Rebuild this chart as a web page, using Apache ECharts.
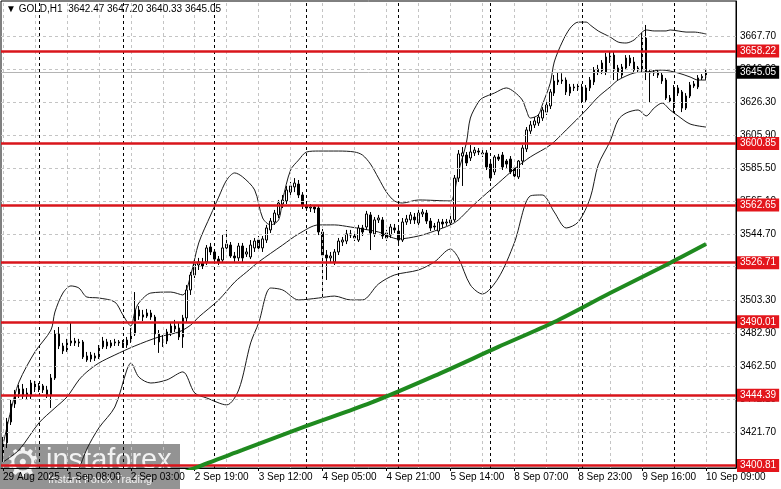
<!DOCTYPE html>
<html><head><meta charset="utf-8">
<script src="https://cdn.jsdelivr.net/npm/echarts@6/dist/echarts.min.js"></script>
<style>html,body{margin:0;padding:0;background:#fff}#c{width:781px;height:489px}</style>
</head><body><div id="c"></div>
<script>
// ---------------- data ----------------
const slotCount = 184; // 177 bars + right shift space
const xLabels = ['29 Aug 2025','1 Sep 08:00','2 Sep 03:00','2 Sep 19:00','3 Sep 12:00','4 Sep 05:00','4 Sep 21:00','5 Sep 14:00','8 Sep 07:00','8 Sep 23:00','9 Sep 16:00','10 Sep 09:00'];
const labelStep = 16;
const yTicks = [3667.70,3646.90,3626.30,3605.90,3585.50,3565.10,3544.70,3524.30,3503.30,3482.90,3462.50,3442.10,3421.70];
const levels = [3658.22,3600.85,3562.65,3526.71,3490.01,3444.39,3400.81];
const lastPrice = 3645.05;
const separators = [9,30,53,76,99,122,145,168];
const gridBars = [0,8,16,24,32,40,48,56,64,72,80,88,96,104,112,120,128,136,144,152,160,168,176];
// [open, close, low, high]
const ohlc = [
[3407.3,3414.8,3403.0,3418.5],[3414.8,3427.8,3411.6,3430.3],[3427.8,3439.0,3425.9,3441.5],[3439.0,3445.2,3436.5,3447.7],
[3445.2,3448.3,3442.7,3450.8],[3448.3,3443.9,3442.1,3451.4],[3443.9,3445.8,3441.5,3448.9],[3443.9,3452.0,3442.1,3453.9],
[3451.4,3448.9,3446.4,3453.3],[3448.9,3450.2,3446.4,3452.0],[3450.2,3447.7,3445.8,3451.4],[3447.7,3444.6,3442.7,3450.2],
[3444.6,3455.1,3436.5,3457.6],[3455.1,3482.5,3453.9,3484.9],[3482.5,3475.0,3473.1,3486.8],[3475.0,3471.9,3470.0,3476.9],
[3472.5,3476.9,3471.3,3479.4],[3476.9,3478.1,3475.0,3489.9],[3478.1,3476.9,3475.0,3480.0],[3476.9,3477.5,3474.4,3479.4],
[3477.5,3468.2,3466.9,3478.7],[3468.8,3466.3,3465.1,3471.3],[3466.9,3469.4,3465.1,3471.3],[3468.8,3467.5,3465.7,3470.7],
[3468.2,3474.4,3466.9,3475.6],[3474.4,3478.1,3473.1,3480.6],[3477.5,3475.0,3473.1,3479.4],[3475.0,3476.9,3473.8,3478.7],
[3476.9,3477.5,3475.0,3479.4],[3477.5,3476.9,3475.0,3478.7],[3476.9,3475.6,3473.8,3478.7],[3475.6,3478.7,3473.8,3480.6],
[3478.1,3483.1,3476.9,3486.2],[3482.5,3497.4,3481.2,3508.5],[3497.4,3493.6,3491.2,3499.8],[3494.3,3493.0,3490.5,3497.4],
[3493.6,3495.5,3492.4,3498.0],[3495.5,3493.0,3491.2,3497.4],[3493.0,3482.5,3475.6,3494.3],[3482.5,3477.5,3470.7,3484.9],
[3477.5,3478.7,3474.4,3481.8],[3478.1,3483.7,3476.2,3485.6],[3483.1,3487.4,3481.2,3489.9],[3487.4,3485.6,3483.7,3491.2],
[3486.2,3480.6,3478.7,3489.3],[3480.6,3492.4,3473.8,3494.3],[3492.4,3509.8,3489.9,3512.9],[3509.8,3519.1,3506.7,3521.0],
[3519.1,3525.9,3517.2,3528.4],[3525.3,3527.2,3522.2,3529.7],[3526.6,3524.7,3522.8,3529.7],[3527.2,3535.9,3525.3,3537.7],
[3536.5,3533.4,3531.5,3539.0],[3533.4,3529.0,3527.2,3535.2],[3529.0,3527.2,3525.3,3530.9],[3528.4,3535.9,3526.6,3544.0],
[3535.9,3538.3,3534.6,3547.1],[3537.7,3530.9,3529.7,3539.6],[3530.9,3529.7,3527.2,3533.4],[3529.7,3537.1,3527.8,3539.0],
[3537.1,3529.7,3527.2,3539.0],[3532.1,3533.4,3530.3,3535.9],[3530.3,3537.7,3529.0,3540.8],[3535.9,3540.2,3533.4,3542.1],
[3540.8,3535.9,3534.0,3543.3],[3535.9,3541.5,3533.4,3543.3],[3540.8,3548.3,3539.0,3550.2],[3547.1,3552.6,3545.2,3554.5],
[3552.0,3557.6,3550.2,3559.5],[3556.4,3563.8,3554.5,3565.7],[3563.2,3565.7,3560.7,3568.8],[3565.1,3571.9,3563.2,3574.4],
[3570.6,3574.4,3568.8,3576.9],[3573.8,3576.2,3570.6,3579.3],[3575.6,3568.8,3566.9,3578.1],[3568.8,3562.0,3560.1,3570.6],
[3562.0,3560.7,3558.9,3563.8],[3560.7,3561.3,3558.2,3563.2],[3561.3,3560.1,3557.6,3562.6],[3560.7,3545.8,3543.9,3562.6],
[3545.8,3531.5,3504.8,3547.7],[3531.5,3529.7,3516.0,3534.6],[3529.7,3530.9,3527.2,3533.4],[3527.2,3533.4,3525.3,3535.2],
[3533.4,3540.2,3531.5,3542.1],[3539.6,3540.8,3537.1,3542.7],[3540.2,3544.6,3538.3,3547.1],[3543.9,3544.6,3542.1,3547.1],
[3543.3,3542.1,3540.2,3545.8],[3540.8,3548.3,3539.6,3550.2],[3548.3,3545.8,3543.3,3550.2],[3548.9,3557.0,3547.1,3558.9],
[3556.4,3545.2,3534.6,3558.2],[3544.6,3553.3,3542.7,3555.1],[3553.3,3554.5,3551.4,3556.4],[3553.3,3543.3,3541.5,3555.1],
[3545.2,3542.1,3540.2,3547.1],[3543.9,3548.9,3542.1,3550.8],[3548.3,3547.1,3545.2,3550.8],[3546.4,3540.8,3539.0,3548.3],
[3540.8,3552.0,3539.6,3554.5],[3552.0,3553.9,3550.2,3556.4],[3553.3,3556.4,3550.8,3558.2],[3555.1,3553.3,3550.8,3557.6],
[3551.4,3557.6,3549.6,3559.5],[3557.0,3558.2,3555.1,3560.1],[3557.6,3552.6,3550.8,3559.5],[3552.6,3548.3,3546.4,3554.5],
[3549.5,3548.9,3547.1,3551.4],[3546.4,3552.0,3543.9,3553.9],[3552.0,3550.8,3548.3,3553.9],[3551.4,3552.0,3549.6,3553.9],
[3551.4,3553.3,3549.6,3555.7],[3553.3,3579.3,3552.0,3581.2],[3579.3,3594.3,3576.9,3596.7],[3593.0,3594.9,3574.4,3598.6],
[3593.6,3588.7,3586.8,3595.5],[3591.8,3595.5,3589.9,3599.8],[3594.9,3596.7,3593.0,3598.6],[3596.1,3595.5,3593.6,3598.0],
[3594.9,3594.3,3592.4,3596.7],[3594.9,3586.2,3584.3,3596.7],[3588.0,3579.3,3577.5,3590.5],[3583.1,3592.4,3581.2,3593.6],
[3592.4,3591.1,3589.9,3594.3],[3593.6,3586.2,3584.3,3595.5],[3589.9,3588.0,3585.6,3591.1],[3591.1,3583.1,3581.8,3593.0],
[3585.6,3580.6,3578.1,3587.4],[3580.0,3589.9,3578.7,3590.5],[3589.9,3598.0,3587.4,3599.8],[3597.4,3609.2,3595.5,3611.0],
[3608.5,3612.3,3606.7,3614.8],[3612.3,3614.8,3610.4,3617.2],[3613.5,3617.2,3611.7,3619.1],[3616.6,3621.6,3614.8,3623.4],
[3620.3,3624.7,3618.5,3626.5],[3624.1,3632.8,3622.2,3634.6],[3632.1,3639.6,3630.3,3643.3],[3639.0,3640.2,3637.1,3645.2],
[3639.6,3640.2,3637.8,3644.4],[3640.2,3632.8,3630.9,3641.8],[3635.9,3632.1,3630.3,3637.8],[3635.9,3635.3,3633.4,3637.8],
[3635.3,3636.5,3633.4,3637.8],[3635.9,3627.8,3625.9,3637.8],[3627.8,3635.3,3626.6,3637.1],[3635.3,3640.2,3633.4,3642.1],
[3639.0,3646.4,3637.1,3648.3],[3645.2,3647.0,3643.3,3649.6],[3645.8,3650.8,3643.9,3652.6],[3645.2,3654.5,3643.3,3657.0],
[3655.1,3652.6,3650.8,3658.2],[3655.7,3646.4,3640.2,3658.2],[3647.7,3645.2,3640.2,3649.6],[3643.3,3648.3,3641.5,3650.2],
[3647.7,3653.9,3646.4,3655.7],[3653.9,3650.8,3648.9,3655.7],[3651.4,3646.4,3645.2,3654.5],[3647.7,3646.4,3644.6,3648.9],
[3646.4,3666.3,3645.2,3669.4],[3666.3,3645.2,3640.2,3674.4],[3645.2,3644.6,3626.5,3646.4],[3644.6,3645.2,3642.7,3646.4],
[3645.2,3643.3,3641.5,3646.4],[3643.3,3639.6,3637.8,3645.2],[3640.2,3629.0,3627.8,3641.5],[3629.0,3627.2,3625.9,3630.9],
[3625.3,3635.3,3619.7,3637.1],[3635.3,3632.1,3630.3,3637.1],[3632.8,3622.8,3620.3,3634.0],[3622.8,3630.3,3621.6,3632.1],
[3630.3,3637.1,3629.0,3639.0],[3636.5,3637.8,3635.3,3639.6],[3635.9,3641.5,3634.6,3643.3],[3641.5,3642.5,3640.2,3643.9],
[3642.47,3645.05,3640.33,3647.20]
];
// Bollinger bands: [bar index, value]
const bbUpper = [[0,3413.5],[2,3435.3],[4,3452.6],[8,3471.3],[12,3484.9],[13,3496.1],[15,3507.9],[17,3512.3],[19,3511.0],[21,3505.4],[24,3504.8],[28,3502.3],[30,3494.3],[32,3487.4],[33,3496.1],[34,3501.7],[37,3507.9],[42,3508.5],[45,3506.7],[47,3519.1],[49,3539.0],[52,3556.4],[54,3567.5],[56,3578.1],[58,3582.5],[60,3580.0],[63,3571.9],[65,3554.5],[67,3550.2],[69,3553.3],[70,3565.7],[72,3584.3],[74,3590.5],[76,3595.5],[79,3596.1],[84,3596.1],[88,3595.5],[90,3593.6],[92,3588.0],[94,3579.3],[96,3570.6],[98,3565.1],[100,3563.8],[104,3565.7],[112,3565.1],[113,3570.6],[114,3583.1],[116,3601.1],[117,3616.6],[119,3626.5],[120,3629.0],[123,3632.1],[126,3635.3],[128,3632.8],[130,3627.8],[131,3621.6],[132,3616.6],[134,3618.5],[135,3624.7],[137,3638.3],[138,3651.4],[140,3663.8],[142,3672.5],[144,3676.2],[146,3676.2],[147,3674.4],[149,3670.7],[152,3666.9],[154,3663.8],[156,3663.2],[158,3665.1],[159,3667.5],[161,3671.3],[163,3670.7],[166,3670.7],[167,3671.3],[169,3670.7],[171,3670.0],[173,3670.0],[176,3668.8]];
const bbMiddle = [[0,3402.9],[4,3410.4],[9,3427.2],[13,3436.5],[16,3443.3],[19,3453.9],[21,3458.9],[24,3464.4],[28,3469.4],[33,3475.0],[39,3480.6],[44,3483.7],[47,3488.0],[49,3493.0],[54,3503.6],[58,3514.7],[61,3521.0],[64,3527.2],[70,3537.7],[74,3544.6],[79,3550.2],[83,3550.2],[87,3548.9],[90,3547.7],[94,3545.8],[99,3541.5],[104,3543.3],[108,3546.4],[112,3550.2],[114,3553.3],[117,3560.7],[120,3567.5],[124,3576.2],[128,3584.9],[132,3592.4],[137,3599.8],[141,3609.2],[146,3621.6],[149,3629.7],[152,3635.9],[154,3640.2],[158,3644.6],[161,3645.2],[165,3646.4],[169,3644.6],[172,3642.1],[174,3640.2],[176,3640.2]];
const bbLower = [[0,3392.4],[4,3368.2],[9,3378.7],[16,3375.0],[19,3398.0],[21,3411.0],[24,3424.1],[28,3437.1],[31,3460.1],[32,3464.4],[34,3455.7],[37,3452.0],[41,3453.9],[45,3458.9],[48,3445.8],[51,3442.7],[56,3438.4],[59,3447.7],[62,3476.9],[64,3489.3],[67,3511.0],[70,3509.8],[74,3503.6],[79,3504.8],[83,3506.0],[87,3503.6],[90,3503.6],[94,3513.5],[98,3519.1],[104,3522.2],[108,3527.2],[112,3535.2],[114,3529.7],[117,3512.9],[120,3507.3],[124,3517.2],[128,3539.0],[132,3568.2],[135,3568.8],[138,3558.2],[141,3548.3],[144,3552.0],[147,3566.9],[149,3587.4],[152,3602.3],[154,3615.4],[156,3619.7],[159,3621.6],[161,3617.9],[163,3622.8],[165,3625.9],[167,3621.6],[169,3617.9],[172,3612.9],[176,3611.0]];
// long moving average (green)
const maLine = [[44,3395.0],[48,3399.2],[60,3410.4],[76,3425.3],[92,3439.6],[108,3456.4],[124,3474.4],[138,3489.9],[152,3507.9],[167,3526.6],[176,3538.3]];

// ---------------- chart ----------------
const cats = [];
for (let i = 0; i < slotCount; i++) cats.push(String(i));
const FONT = 'Liberation Sans';
const isLabelBar = (i) => i % labelStep === 0 && i / labelStep < xLabels.length;

const chart = echarts.init(document.getElementById('c'), null, {renderer: 'canvas'});
chart.setOption({
  animation: false,
  backgroundColor: '#ffffff',
  grid: {left: 1, top: 1, width: 735, height: 467, show: true, borderColor: '#000', borderWidth: 1, backgroundColor: '#fff'},
  xAxis: {
    type: 'category', data: cats, boundaryGap: true,
    axisLine: {show: true, lineStyle: {color: '#000', width: 1}},
    axisTick: {show: true, alignWithLabel: true, interval: (i) => isLabelBar(i), length: 3, lineStyle: {color: '#000'}},
    axisLabel: {show: true, interval: (i) => isLabelBar(i), formatter: (v, i) => xLabels[i / labelStep] || '',
      align: 'left', margin: 4, fontSize: 10, fontFamily: FONT, color: '#000'},
    splitLine: {show: false}
  },
  yAxis: {
    type: 'value', position: 'right', min: 3399.2, max: 3689.3, scale: true,
    axisLine: {show: true, lineStyle: {color: '#000'}},
    axisTick: {show: false}, axisLabel: {show: false}, splitLine: {show: false}
  },
  series: [
    { // price grid + tick labels
      type: 'line', data: [], silent: true, z: 1,
      markLine: {
        silent: true, symbol: ['none', 'none'], animation: false,
        lineStyle: {color: '#c4c4c4', type: [3, 3], width: 1},
        label: {show: true, position: 'end', distance: 4, formatter: (p) => p.value.toFixed(2),
          fontSize: 10, fontFamily: FONT, color: '#000'},
        data: yTicks.map(v => ({yAxis: v}))
      }
    },
    { // vertical grid
      type: 'line', data: [], silent: true, z: 1,
      markLine: {
        silent: true, symbol: ['none', 'none'], animation: false,
        lineStyle: {color: '#c4c4c4', type: [3, 3], width: 1},
        label: {show: false},
        data: gridBars.map(v => ({xAxis: v}))
      }
    },
    { // day separators
      type: 'line', data: [], silent: true, z: 2,
      markLine: {
        silent: true, symbol: ['none', 'none'], animation: false,
        lineStyle: {color: '#000', type: [3, 3], width: 1},
        label: {show: false},
        data: separators.map(v => ({xAxis: v}))
      }
    },
    { // current price line
      type: 'line', data: [], silent: true, z: 2,
      markLine: {
        silent: true, symbol: ['none', 'none'], animation: false,
        lineStyle: {color: '#b4b4b4', type: 'solid', width: 1},
        label: {show: true, position: 'end', distance: 1, formatter: (p) => p.value.toFixed(2),
          fontSize: 10, fontFamily: FONT, color: '#fff', backgroundColor: '#000', padding: [2, 3, 1, 3]},
        data: [{yAxis: lastPrice}]
      }
    },
    {name: 'upper', type: 'line', data: bbUpper, showSymbol: false, smooth: 0.3, z: 3, silent: true,
      lineStyle: {color: '#1a1a1a', width: 1}},
    {name: 'middle', type: 'line', data: bbMiddle, showSymbol: false, smooth: 0.3, z: 3, silent: true,
      lineStyle: {color: '#1a1a1a', width: 1}},
    {name: 'lower', type: 'line', data: bbLower, showSymbol: false, smooth: 0.3, z: 3, silent: true,
      lineStyle: {color: '#1a1a1a', width: 1}},
    {name: 'GOLD', type: 'candlestick', data: ohlc, barWidth: 2, z: 4, silent: true,
      itemStyle: {color: '#ffffff', color0: '#000000', borderColor: '#000000', borderColor0: '#000000', borderWidth: 1}},
    {name: 'MA', type: 'line', data: maLine, showSymbol: false, smooth: 0.3, z: 5, silent: true,
      lineStyle: {color: '#1f8a1f', width: 4}},
    { // key levels
      type: 'line', data: [], silent: true, z: 6,
      markLine: {
        silent: true, symbol: ['none', 'none'], animation: false,
        lineStyle: {color: '#d9151b', type: 'solid', width: 2.5},
        label: {show: true, position: 'end', distance: 1, formatter: (p) => p.value.toFixed(2),
          fontSize: 10, fontFamily: FONT, color: '#fff', backgroundColor: '#e3161c', padding: [2, 3, 1, 3]},
        data: levels.map(v => ({yAxis: v}))
      }
    }
  ],
  graphic: [
    {type: 'text', left: 6, top: 4, z: 50, style: {text: '▼ GOLD,H1  3642.47 3647.20 3640.33 3645.05',
      font: '10px "Liberation Sans", "DejaVu Sans"', fill: '#000'}},
    {type: 'group', left: 0, top: 444, z: 100, children: [
      {type: 'rect', shape: {x: 0, y: 0, width: 180, height: 45}, style: {fill: 'rgba(128,128,128,0.85)'}},
      {type: 'text', x: 5, y: 2, style: {text: '⚙', font: '40px "DejaVu Sans"', fill: '#f2f2f2'}},
      {type: 'text', x: 46, y: 2, style: {text: 'instaforex', font: '29px "Liberation Sans"', fill: '#f2f2f2'}},
      {type: 'text', x: 48, y: 30, style: {text: 'Instant Forex Trading', font: '11px "Liberation Sans"', fill: '#f2f2f2'}}
    ]}
  ]
});
</script>
</body></html>
